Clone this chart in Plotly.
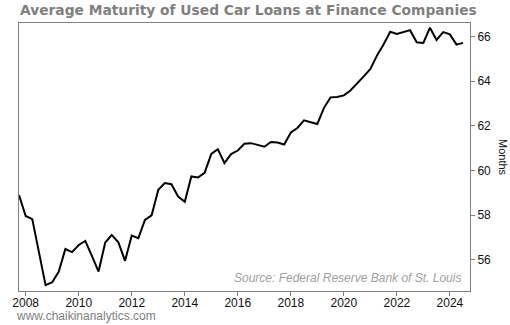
import pandas as pd
import plotly.graph_objects as go

# Quarterly observations, Q4 2007 through Q3 2024 (months)
quarters = pd.date_range("2007-10-01", periods=68, freq="QS")
avg_maturity = [
    58.91, 57.97, 57.83, 56.30, 54.87, 55.00, 55.48, 56.49, 56.35, 56.67,
    56.85, 56.18, 55.48, 56.78, 57.12, 56.79, 55.96, 57.09, 56.97, 57.79,
    58.00, 59.14, 59.44, 59.39, 58.84, 58.61, 59.74, 59.69, 59.90, 60.75,
    60.96, 60.34, 60.74, 60.90, 61.20, 61.23, 61.16, 61.07, 61.28, 61.26,
    61.17, 61.71, 61.91, 62.25, 62.17, 62.09, 62.80, 63.28, 63.30, 63.37,
    63.59, 63.89, 64.22, 64.55, 65.15, 65.65, 66.22, 66.12, 66.21, 66.29,
    65.75, 65.72, 66.40, 65.85, 66.20, 66.10, 65.64, 65.72,
]

x_tick_years = [2008, 2010, 2012, 2014, 2016, 2018, 2020, 2022, 2024]
y_ticks = [56, 58, 60, 62, 64, 66]

title_text = "Average Maturity of Used Car Loans at Finance Companies"
source_text = "Source: Federal Reserve Bank of St. Louis"
footer_text = "www.chaikinanalytics.com"
y_title = "Months"

fig = go.Figure(
    go.Scatter(
        x=quarters,
        y=avg_maturity,
        mode="lines",
        line=dict(color="black", width=2),
        hoverinfo="x+y",
    )
)

axis_font = dict(family="Liberation Sans, Arial, sans-serif", size=12, color="#111111")
frame = dict(
    ticks="outside",
    ticklen=4,
    tickcolor="#808080",
    showgrid=False,
    zeroline=False,
    showline=True,
    linecolor="#808080",
    linewidth=1,
    mirror=True,
    tickfont=axis_font,
)

fig.update_layout(
    width=510,
    height=325,
    margin=dict(l=14, r=40, t=23, b=34),
    paper_bgcolor="white",
    plot_bgcolor="white",
    showlegend=False,
    xaxis=dict(
        type="date",
        range=["2007-10-01", "2024-10-04"],
        tickvals=[f"{y}-01-01" for y in x_tick_years],
        ticktext=[str(y) for y in x_tick_years],
        ticklabelstandoff=-3,
        **frame,
    ),
    yaxis=dict(
        side="right",
        range=[54.61, 66.61],
        tickvals=y_ticks,
        **frame,
    ),
    annotations=[
        dict(
            text="<b>" + title_text + "</b>",
            xref="paper", yref="paper",
            x=0.0, xshift=-1, y=1.0, yshift=23,
            xanchor="left", yanchor="top",
            showarrow=False,
            font=dict(family="DejaVu Sans, Verdana, sans-serif", size=13.8, color="#7F7F7F"),
        ),
        dict(
            text="<i>" + source_text + "</i>",
            xref="paper", yref="paper",
            x=0.985, y=0.016,
            xanchor="right", yanchor="bottom",
            showarrow=False,
            font=dict(family="Liberation Sans, Arial, sans-serif", size=12, color="#A0A0A0"),
        ),
        dict(
            text=footer_text,
            xref="paper", yref="paper",
            x=0.0, xshift=-5, y=0.0, yshift=-34,
            xanchor="left", yanchor="bottom",
            showarrow=False,
            font=dict(family="Liberation Sans, Arial, sans-serif", size=12, color="#808080"),
        ),
        dict(
            text=y_title,
            xref="paper", yref="paper",
            x=1.0, xshift=33, y=0.5,
            xanchor="center", yanchor="middle",
            textangle=90,
            showarrow=False,
            font=dict(family="Liberation Sans, Arial, sans-serif", size=11, color="#111111"),
        ),
    ],
)

fig.write_html("out.html")
